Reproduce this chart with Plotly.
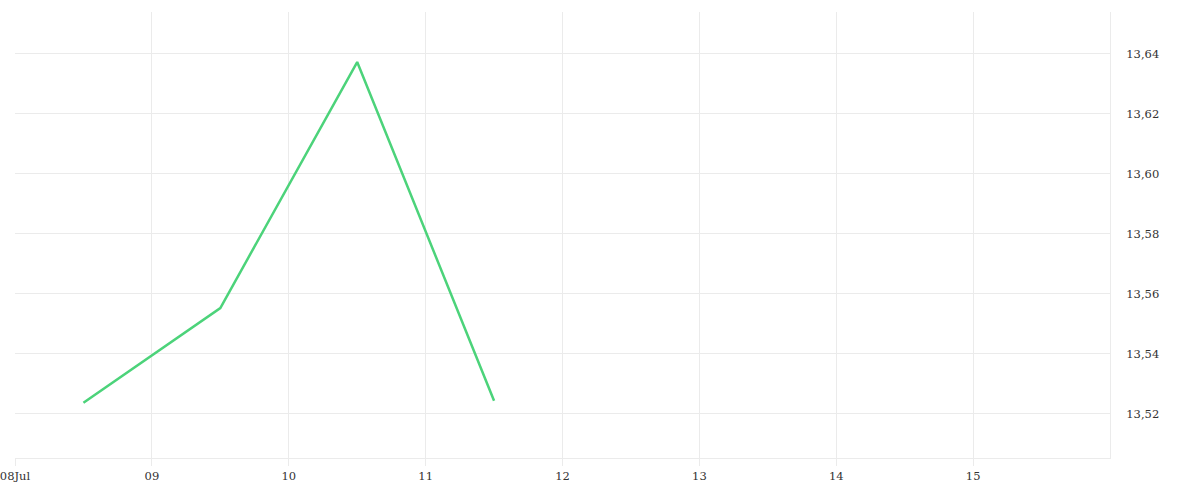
import plotly.graph_objects as go

dates = ["2024-07-08 12:00", "2024-07-09 12:00", "2024-07-10 12:00", "2024-07-11 12:00"]
values = [13.5237, 13.5553, 13.6373, 13.5244]

tick_dates = ["2024-07-08", "2024-07-09", "2024-07-10", "2024-07-11",
              "2024-07-12", "2024-07-13", "2024-07-14", "2024-07-15"]
tick_labels = ["08Jul", "09", "10", "11", "12", "13", "14", "15"]
y_ticks = [13.52, 13.54, 13.56, 13.58, 13.60, 13.62, 13.64]

grid = "#ebebeb"
font = "DejaVu Serif"

fig = go.Figure(go.Scatter(
    x=dates, y=values, mode="lines",
    line=dict(color="#4cd37a", width=2.5),
    hoverinfo="skip",
))

fig.update_layout(
    width=1200, height=500,
    margin=dict(l=15, r=90, t=12, b=42),
    paper_bgcolor="white", plot_bgcolor="white",
    separators=",.",
    showlegend=False,
    font=dict(family=font, size=11.5, color="#333333"),
)
fig.update_xaxes(
    type="date",
    range=["2024-07-08", "2024-07-16"],
    tickvals=tick_dates, ticktext=tick_labels,
    showgrid=True, gridcolor=grid, gridwidth=1,
    showline=True, linecolor=grid, linewidth=1,
    ticks="outside", ticklen=7, tickcolor=grid,
    zeroline=False, automargin=False, ticklabeloverflow="allow",
)
fig.update_yaxes(
    side="right",
    range=[13.5053, 13.654],
    tickvals=y_ticks, tickformat=".2f",
    showgrid=True, gridcolor=grid, gridwidth=1,
    showline=True, linecolor=grid, linewidth=1,
    ticks="outside", ticklen=13, tickcolor="rgba(0,0,0,0)",
    zeroline=False, automargin=False,
)

fig.write_html(
    "out.html",
    config={"displayModeBar": False},
    post_script="document.body.style.margin='0';",
)
